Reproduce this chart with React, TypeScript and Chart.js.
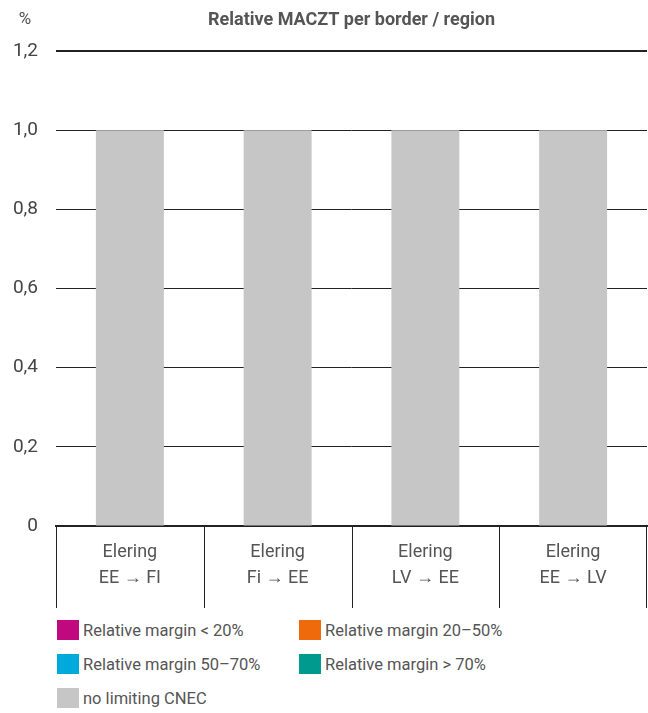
import React, { useEffect, useRef } from "react";
import { Chart, registerables } from "chart.js";

Chart.register(...registerables);

const categories: string[][] = [
  ["Elering", "EE → FI"],
  ["Elering", "Fi → EE"],
  ["Elering", "LV → EE"],
  ["Elering", "EE → LV"],
];
const marginBelow20 = [0, 0, 0, 0];
const margin20to50 = [0, 0, 0, 0];
const margin50to70 = [0, 0, 0, 0];
const marginAbove70 = [0, 0, 0, 0];
const noLimitingCnec = [1.0, 1.0, 1.0, 1.0];
const yTicks = [0, 0.2, 0.4, 0.6, 0.8, 1.0, 1.2];

const seriesNames = [
  "Relative margin < 20%",
  "Relative margin 20–50%",
  "Relative margin 50–70%",
  "Relative margin > 70%",
  "no limiting CNEC",
];
const seriesColors = ["#C0097F", "#EE6A0A", "#00A9DC", "#009A8E", "#C6C6C6"];
const seriesData = [marginBelow20, margin20to50, margin50to70, marginAbove70, noLimitingCnec];

const FONT = "Roboto, 'Noto Sans', sans-serif";
const CW = 648;
const CH = 610;

const decorPlugin = {
  id: "decor",
  afterDraw(chart: any) {
    const ctx = chart.ctx as CanvasRenderingContext2D;
    const area = chart.chartArea;
    ctx.save();
    ctx.fillStyle = "#555555";
    ctx.textAlign = "center";
    ctx.textBaseline = "middle";
    ctx.font = `bold 18px ${FONT}`;
    ctx.fillText("Relative MACZT per border / region", (area.left + area.right) / 2, 20);
    ctx.font = `17px ${FONT}`;
    ctx.fillText("%", 25, 20);
    const n = categories.length;
    const w = (area.right - area.left) / n;
    ctx.strokeStyle = "#222222";
    ctx.lineWidth = 1;
    for (let i = 0; i <= n; i++) {
      let x = Math.round(area.left + i * w) + 0.5;
      if (i === n) x = Math.min(x, CW - 1.5);
      ctx.beginPath();
      ctx.moveTo(x, area.bottom);
      ctx.lineTo(x, area.bottom + 82);
      ctx.stroke();
    }
    ctx.restore();
  },
};

export default function App() {
  const ref = useRef<HTMLCanvasElement | null>(null);

  useEffect(() => {
    document.body.style.margin = "0";
    const canvas = ref.current;
    if (!canvas) return;
    const chart = new Chart(canvas, {
      type: "bar",
      data: {
        labels: categories,
        datasets: seriesNames.map((name, i) => ({
          label: name,
          data: seriesData[i],
          backgroundColor: seriesColors[i],
          borderWidth: 0,
          barPercentage: 0.46,
          categoryPercentage: 1,
        })),
      },
      options: {
        responsive: false,
        animation: false,
        devicePixelRatio: 1,
        layout: { padding: { top: 51, right: 1, left: 0, bottom: 0 } },
        plugins: {
          legend: { display: false },
          title: { display: false },
          tooltip: { enabled: false },
        },
        scales: {
          x: {
            stacked: true,
            afterFit(scale: any) {
              scale.height = 84;
            },
            grid: { display: false, drawTicks: false },
            border: { display: true, color: "#222222", width: 2 },
            ticks: {
              color: "#555555",
              font: { family: FONT, size: 18, lineHeight: 1.45 },
              padding: 13,
              maxRotation: 0,
              autoSkip: false,
            },
          },
          y: {
            stacked: true,
            min: 0,
            max: 1.2,
            afterFit(scale: any) {
              scale.width = 56;
            },
            afterBuildTicks(scale: any) {
              scale.ticks = yTicks.map((v) => ({ value: v }));
            },
            grid: {
              color: "#222222",
              lineWidth: (c: any) => (c.tick && Math.abs(c.tick.value - 1.2) < 1e-6 ? 2 : 1),
              drawTicks: false,
            },
            border: { display: false },
            ticks: {
              color: "#444444",
              font: { family: FONT, size: 19 },
              padding: 18,
              callback: (v: any) => (Number(v) === 0 ? "0" : Number(v).toFixed(1).replace(".", ",")),
            },
          },
        },
      },
      plugins: [decorPlugin],
    });
    return () => chart.destroy();
  }, []);

  const legendPos = [
    { x: 57, y: 620 },
    { x: 299, y: 620 },
    { x: 57, y: 654 },
    { x: 299, y: 654 },
    { x: 57, y: 688 },
  ];

  return (
    <div style={{ position: "relative", width: CW, height: 713, fontFamily: FONT }}>
      <canvas ref={ref} width={CW} height={CH} style={{ display: "block", width: CW, height: CH }} />
      {seriesNames.map((name, i) => (
        <div
          key={name}
          style={{
            position: "absolute",
            left: legendPos[i].x,
            top: legendPos[i].y,
            height: 20,
            display: "flex",
            alignItems: "center",
            whiteSpace: "nowrap",
          }}
        >
          <div style={{ width: 22, height: 20, background: seriesColors[i], marginRight: 4 }} />
          <span style={{ fontSize: 16.5, color: "#555555" }}>{name}</span>
        </div>
      ))}
    </div>
  );
}
